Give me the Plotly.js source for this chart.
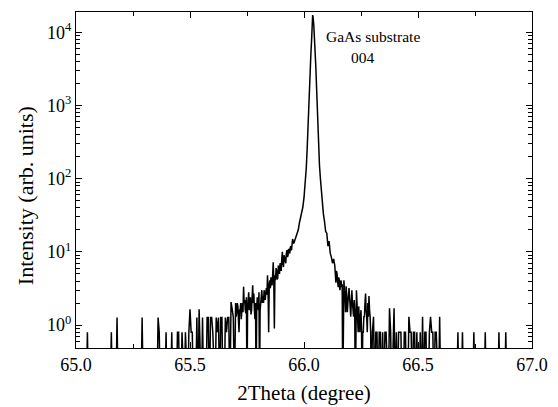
<!DOCTYPE html>
<html>
<head>
<meta charset="utf-8">
<script src="https://cdn.plot.ly/plotly-3.0.1.min.js"></script>
<style>html,body{margin:0;padding:0;background:#fff;}#chart{width:558px;height:407px;}</style>
</head>
<body>
<div id="chart"></div>
<script>
// Scan segments: 2Theta (degree) and intensity (arb. units); 0.1 = zero counts (below the axis floor)
var xLeftBg = [
65.000,65.045,65.050,65.055,65.150,65.155,65.160,65.175,65.180,65.185,
65.285,65.290,65.295,65.355,65.360,65.365,65.370,65.390,65.395,65.400,
65.415,65.420,65.425,65.440,65.445,65.450,65.455,65.460,65.465,65.470,
65.475,65.480,65.485,65.490,65.495,65.500,65.505,65.510,65.515,65.525,
65.530,65.535,65.540,65.545,65.550,65.555,65.560,65.570,65.575,65.580,
65.585,65.590,65.595,65.600,65.605,65.610,65.615,65.620,65.625,65.630,
65.635,65.640,65.645,65.650,65.655,65.660,65.665,65.670,65.675,65.680,
65.685,65.690,65.695];
var yLeftBg = [
0.1,0.1,0.8,0.1,0.1,0.8,0.1,0.1,1.27,0.1,
0.1,1.27,0.1,0.1,1.27,0.8,0.1,0.1,0.8,0.1,
0.1,0.8,0.1,0.1,0.8,0.8,0.1,0.1,0.8,0.1,
0.1,0.8,0.1,0.1,0.8,1.65,0.8,0.8,0.1,0.1,
1.27,0.1,1.65,0.1,0.1,1.27,0.1,0.1,1.27,1.27,
0.1,1.27,1.27,0.8,0.1,0.1,1.27,0.8,1.27,0.1,
1.27,1.27,0.1,0.1,1.27,0.8,1.27,1.27,0.1,2.06,
1.65,1.27,0.1];

var xLeftNoise = [
65.7000,65.7025,65.7050,65.7075,65.7100,65.7125,65.7150,65.7175,65.7200,65.7225,
65.7250,65.7275,65.7300,65.7325,65.7350,65.7375,65.7400,65.7425,65.7450,65.7475,
65.7500,65.7525,65.7550,65.7575,65.7600,65.7625,65.7650,65.7675,65.7700,65.7725,
65.7750,65.7775,65.7800,65.7825,65.7850,65.7875,65.7900,65.7925,65.7950,65.7975,
65.8000,65.8025,65.8050,65.8075,65.8100,65.8125,65.8150,65.8175,65.8200,65.8225,
65.8250,65.8275,65.8300,65.8325,65.8350,65.8375,65.8400,65.8425,65.8450,65.8475,
65.8500,65.8525,65.8550,65.8575,65.8600,65.8625,65.8650,65.8675,65.8700,65.8725,
65.8750,65.8775,65.8800,65.8825,65.8850,65.8875,65.8900,65.8925,65.8950,65.8975,
65.9000,65.9025,65.9050,65.9075,65.9100,65.9125,65.9150,65.9175,65.9200,65.9225,
65.9250,65.9275,65.9300,65.9325,65.9350,65.9375,65.9400,65.9425,65.9450,65.9475,
65.9500];
var yLeftNoise = [
2.0,1.3,1.5,2.0,1.8,1.2,0.8,1.6,1.6,2.0,
1.2,1.6,2.0,1.5,3.35,2.0,2.2,1.6,1.45,2.4,
0.1,1.6,2.0,2.8,1.6,2.0,2.4,1.4,1.6,2.4,
3.5,2.0,2.7,1.6,1.2,2.0,0.1,1.6,2.4,2.0,
1.6,2.8,0.1,1.6,2.2,2.8,3.0,2.0,2.5,2.0,
3.0,2.4,2.2,2.8,3.2,2.6,4.8,3.0,0.8,3.5,
4.1,3.2,4.5,3.6,3.5,4.8,7.2,4.0,0.9,4.8,
4.1,6.0,5.5,4.2,4.5,6.5,6.0,5.0,7.0,6.0,
5.5,8.0,10.0,7.0,6.2,9.0,8.0,7.5,7.0,9.5,
10.6,8.5,9.0,11.0,10.0,9.5,11.5,12.0,10.5,13.5,
15.0];

var xPeak = [
65.955,65.960,65.965,65.970,65.975,65.980,65.985,65.990,65.995,66.000,
66.005,66.010,66.014,66.018,66.022,66.026,66.030,66.033,66.036,
66.038,66.040,66.043,66.046,66.049,66.052,66.055,66.058,66.061,66.064,66.068,66.072,
66.075,66.080,66.085,66.090,66.095,66.100,66.105,66.110,66.115,66.120,66.125,66.130,66.135];
var yPeak = [
13.0,14.5,17.0,18.0,20.0,25.0,29.0,32.0,41.0,55.0,
80,140,260,640,1500,2800,4900,7500,13000,
17200,16000,12500,9000,6200,3300,1800,850,400,220,150,100,
75,45,33,26,19,18,12,14,9.6,8.5,7.0,8.0,6.5];

var xRightNoise = [
66.1400,66.1425,66.1450,66.1475,66.1500,66.1525,66.1550,66.1575,66.1600,66.1625,
66.1650,66.1675,66.1700,66.1725,66.1750,66.1775,66.1800,66.1825,66.1850,66.1875,
66.1900,66.1925,66.1950,66.1975,66.2000,66.2025,66.2050,66.2075,66.2100,66.2125,
66.2150,66.2175,66.2200,66.2225,66.2250,66.2275,66.2300,66.2325,66.2350,66.2375,
66.2400,66.2425,66.2450,66.2475,66.2500,66.2525,66.2550,66.2575,66.2600,66.2625,
66.2650,66.2675,66.2700,66.2725,66.2750,66.2775,66.2800,66.2825,66.2850,66.2875,
66.2900,66.2925,66.2950];
var yRightNoise = [
3.8,5.5,5.0,4.0,3.3,4.5,4.1,3.0,3.5,4.1,
3.3,3.6,0.1,3.0,4.1,3.0,2.5,1.5,3.4,2.4,
1.5,2.0,2.8,3.2,2.4,1.6,1.3,2.0,3.0,2.0,
1.6,1.3,2.2,1.6,0.1,1.6,3.0,2.0,1.3,0.8,
1.8,1.3,0.8,1.3,1.6,0.8,0.1,0.8,0.8,1.3,
1.3,2.0,2.7,1.6,1.3,0.8,2.0,1.3,2.5,1.6,
1.3,0.8,0.1];

var xRightBg = [
66.300,66.305,66.310,66.315,66.320,66.325,66.330,66.335,66.340,66.345,
66.350,66.355,66.360,66.365,66.370,66.375,66.380,66.385,66.390,66.395,
66.400,66.405,66.410,66.415,66.420,66.425,66.430,66.435,66.440,66.445,
66.450,66.455,66.460,66.465,66.470,66.475,66.480,66.485,66.490,66.495,
66.500,66.505,66.510,66.515,66.520,66.525,66.530,66.535,66.540,66.545,
66.550,66.555,66.560,66.565,66.570,66.575,66.580,66.585,66.590,66.595,
66.600,66.670,66.675,66.680,66.690,66.695,66.700,66.740,66.745,66.750,
66.790,66.795,66.800,66.850,66.855,66.860,66.880,66.885,66.890,67.000];
var yRightBg = [
0.8,1.3,0.1,0.8,0.8,0.1,0.8,0.8,0.1,0.8,
0.1,0.8,0.8,0.1,0.1,1.7,0.8,0.1,0.8,1.7,
0.1,0.8,0.1,0.8,0.8,0.8,0.1,0.1,0.8,0.8,
0.1,0.1,1.3,0.8,0.8,0.1,0.8,0.8,0.1,0.8,
0.1,0.1,0.8,0.1,1.3,0.1,0.8,0.8,0.1,0.1,
0.8,1.3,0.8,0.8,0.1,0.8,0.8,0.1,0.1,1.3,
0.1,0.1,0.8,0.1,0.1,0.8,0.1,0.1,0.8,0.1,
0.1,0.8,0.1,0.1,0.8,0.1,0.1,0.8,0.1,0.1];

var xTickVals = [65.0, 65.5, 66.0, 66.5, 67.0];
var xTickText = ['65.0', '65.5', '66.0', '66.5', '67.0'];
var yTickVals = [1, 10, 100, 1000, 10000];
var yTickText = ['10<sup>0</sup>', '10<sup>1</sup>', '10<sup>2</sup>', '10<sup>3</sup>', '10<sup>4</sup>'];
var xTitle = '2Theta (degree)';
var yTitle = 'Intensity (arb. units)';
var peakLabel = 'GaAs substrate';
var reflLabel = '004';

var twoTheta = [].concat(xLeftBg, xLeftNoise, xPeak, xRightNoise, xRightBg);
var intensity = [].concat(yLeftBg, yLeftNoise, yPeak, yRightNoise, yRightBg);

var serif = '"Liberation Serif", "Times New Roman", serif';

var trace = {
  x: twoTheta, y: intensity, type: 'scatter', mode: 'lines',
  line: {color: '#000', width: 1.5}, showlegend: false, hoverinfo: 'x+y'
};

var layout = {
  width: 558, height: 407,
  margin: {l: 76, r: 26, t: 12, b: 59},
  paper_bgcolor: '#fff', plot_bgcolor: '#fff',
  font: {family: serif, color: '#000', size: 18},
  xaxis: {
    range: [65, 67], tickmode: 'array', tickvals: xTickVals, ticktext: xTickText,
    ticks: 'inside', ticklen: 6, tickwidth: 1, tickcolor: '#000',
    minor: {dtick: 0.25, tick0: 65, ticks: 'inside', ticklen: 4, tickcolor: '#000', showgrid: false},
    showline: true, linecolor: '#000', linewidth: 1.2, mirror: 'allticks',
    showgrid: false, zeroline: false,
    tickfont: {family: serif, size: 18, color: '#000'},
    title: {text: xTitle, font: {family: serif, size: 21, color: '#000'}, standoff: 11}
  },
  yaxis: {
    type: 'log', range: [-0.313, 4.277], tickmode: 'array', tickvals: yTickVals, ticktext: yTickText,
    ticks: 'inside', ticklen: 6, tickwidth: 1, tickcolor: '#000',
    minor: {dtick: 'D1', ticks: 'inside', ticklen: 4, tickcolor: '#000', showgrid: false},
    showline: true, linecolor: '#000', linewidth: 1.2, mirror: 'allticks',
    showgrid: false, zeroline: false,
    tickfont: {family: serif, size: 18, color: '#000'}
  },
  annotations: [
    {text: yTitle, xref: 'paper', yref: 'paper', x: -0.1118, y: 0.452, xanchor: 'center', yanchor: 'middle',
     textangle: -90, showarrow: false, font: {family: serif, size: 22, color: '#000'}},
    {text: peakLabel, xref: 'paper', yref: 'paper', x: 0.5439, y: 0.9256, xanchor: 'left', yanchor: 'middle',
     showarrow: false, font: {family: serif, size: 15.5, color: '#000'}},
    {text: reflLabel, xref: 'paper', yref: 'paper', x: 0.6283, y: 0.866, xanchor: 'center', yanchor: 'middle',
     showarrow: false, font: {family: serif, size: 15.5, color: '#000'}}
  ]
};

Plotly.newPlot('chart', [trace], layout, {displayModeBar: false, staticPlot: true});
</script>
</body>
</html>
